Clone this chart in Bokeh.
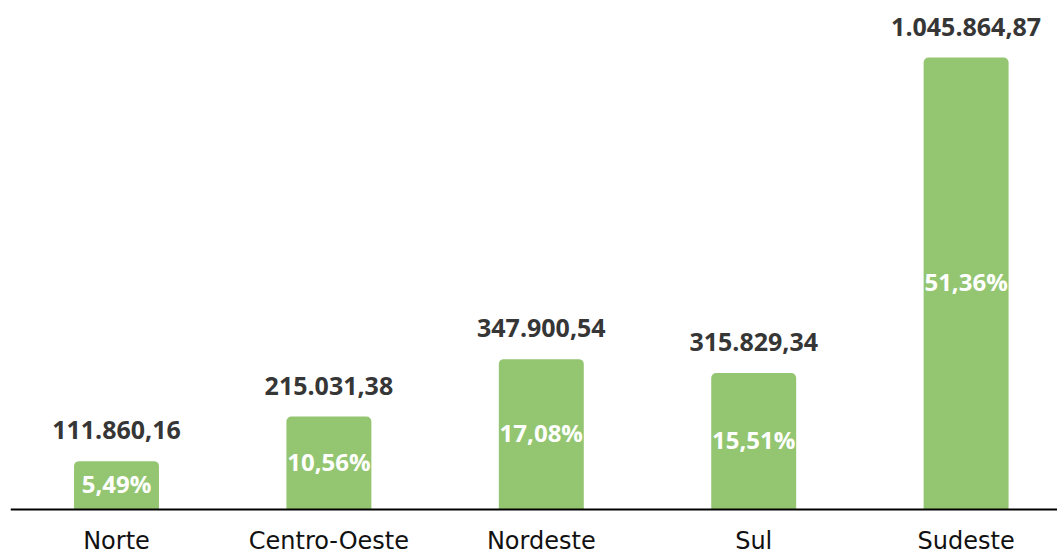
from bokeh.plotting import figure
from bokeh.models import ColumnDataSource, Range1d, Span
from bokeh.core.properties import value
from bokeh.embed import file_html
from bokeh.resources import INLINE

categories = ["Norte", "Centro-Oeste", "Nordeste", "Sul", "Sudeste"]
values = [111860.16, 215031.38, 347900.54, 315829.34, 1045864.87]
percents = [5.49, 10.56, 17.08, 15.51, 51.36]

def br(v):
    s = f"{v:,.2f}"
    return s.replace(",", "X").replace(".", ",").replace("X", ".")

xs = list(range(len(categories)))
src = ColumnDataSource(dict(
    x=xs,
    v=values,
    zero=[0] * len(values),
    mid=[v / 2 for v in values],
    lab=[br(v) for v in values],
    pct=[f"{p:.2f}%".replace(".", ",") for p in percents],
    cat=categories,
))

W, H = 1057, 556
left = 10
base_px = 509
px_per_cat = 212.4
x_start = -(116 - left) / px_per_cat
x_end = x_start + (W - left) / px_per_cat
unit = max(values) / 452.0
y_start = -(H - base_px) * unit
y_end = base_px * unit

p = figure(width=W, height=H, output_backend="svg", toolbar_location=None,
           x_range=Range1d(x_start, x_end), y_range=Range1d(y_start, y_end),
           min_border_left=left, min_border_right=0, min_border_top=0,
           min_border_bottom=0)
p.outline_line_color = None
p.xgrid.visible = False
p.ygrid.visible = False
p.xaxis.visible = False
p.yaxis.visible = False
p.background_fill_color = "white"
p.border_fill_color = "white"

green = "#94C672"
p.vbar(x="x", top="v", bottom=0, width=0.4, source=src, fill_color=green,
       line_color=None, border_radius=(5, 5, 0, 0))

p.add_layout(Span(location=0, dimension="width", line_color="black", line_width=2))

p.text(x="x", y="v", text="lab", source=src, text_align="center",
       text_baseline="alphabetic", y_offset=-31, text_color="#363636",
       text_font=value("Open Sans"), text_font_style="bold", text_font_size="25px")
p.text(x="x", y="mid", text="pct", source=src, text_align="center",
       text_baseline="middle", text_color="white", y_offset=-2,
       text_font=value("Open Sans"), text_font_style="bold", text_font_size="24px")
p.text(x="x", y="zero", text="cat", source=src, text_align="center",
       text_baseline="alphabetic", y_offset=31, text_color="#111111",
       text_font=value("DejaVu Sans"), text_font_size="24px")

open("out.html", "w").write(file_html(p, INLINE))
